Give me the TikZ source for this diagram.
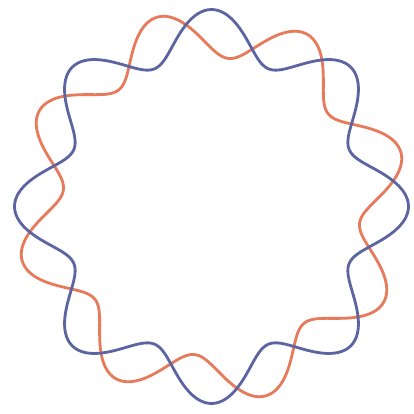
\documentclass[tikz,border=0pt]{standalone}
\usepackage{xcolor}
\usepackage{tikz}

\definecolor{ringblue}{RGB}{92,100,162}
\definecolor{ringorange}{RGB}{230,122,90}

\begin{document}
\begin{tikzpicture}[x=0.02cm, y=0.02cm,
  ring/.style={line width=1.6pt, line join=round}]
% Canvas
\useasboundingbox (0,0) rectangle (414,414);

% Two wavy rings, the second one turned by 16 degrees
\foreach \col/\turn in {ringorange/16, ringblue/0} {
    \draw[ring, \col] plot[domain=0:360, samples=361, variable=\t]
        ({211.5 + (173 + 24*cos(8*(\t-\turn)))*cos(\t)},
         {207.5 + (173 + 24*cos(8*(\t-\turn)))*sin(\t)}) -- cycle;
}
\end{tikzpicture}
\end{document}
